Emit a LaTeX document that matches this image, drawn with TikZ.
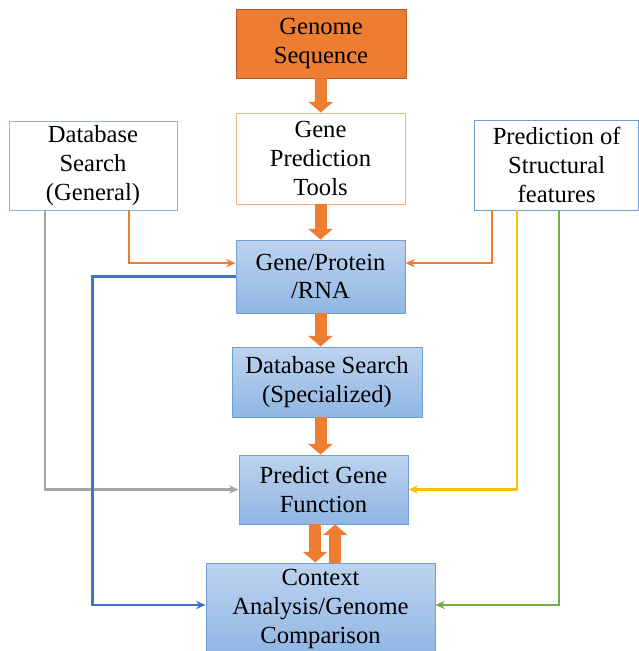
\documentclass[tikz,border=0pt]{standalone}
\usepackage{fontspec}
\setmainfont{Liberation Serif}
\usepackage{tikz}
\usetikzlibrary{arrows.meta,positioning,calc}
\usepackage{xcolor}
\definecolor{genorange}{HTML}{ED7D31}
\definecolor{darkorange}{HTML}{B65A1E}
\definecolor{paleorange}{HTML}{F4B183}
\definecolor{boxblue}{HTML}{6F9ED8}
\definecolor{paleblue}{HTML}{8EB4E3}
\definecolor{topblue}{HTML}{BDD3EE}
\definecolor{botblue}{HTML}{90B6E4}
\definecolor{lineblue}{HTML}{4472C4}
\definecolor{linegray}{HTML}{A5A5A5}
\definecolor{lineyellow}{HTML}{FFC000}
\definecolor{linegreen}{HTML}{70AD47}

\begin{document}
\begin{tikzpicture}[
  >={Stealth[length=8pt,width=7pt]},
  box/.style={rectangle, align=center, inner sep=2pt, font=\fontsize{21}{24.5}\selectfont},
  bluebox/.style={box, draw=boxblue, line width=0.8pt, top color=topblue, bottom color=botblue},
  fatarrow/.style={genorange, line width=0.36cm, -{Triangle[width=0.72cm,length=0.32cm]}},
  link/.style={->, line width=1.8pt}
]
  \useasboundingbox (0,0) rectangle (19.17,-19.53);

  % Top row
  \node[box, fill=genorange, draw=darkorange, line width=0.8pt, minimum width=5.1cm, minimum height=2.07cm] (genome) at (9.63,-1.305) {Genome\\Sequence};
  \node[box, draw=paleorange, line width=0.8pt, minimum width=5.07cm, minimum height=2.73cm] (genepred) at (9.615,-4.755) {Gene\\Prediction\\Tools};
  \node[box, draw=paleblue, line width=0.8pt, minimum width=5.04cm, minimum height=2.67cm] (dbgen) at (2.79,-4.965) {Database\\Search\\(General)};
  \node[box, draw=boxblue, line width=0.8pt, minimum width=4.92cm, minimum height=2.7cm] (structural) at (16.7,-4.95) {Prediction of\\Structural\\features};

  % Main column
  \node[bluebox, minimum width=5.07cm, minimum height=2.19cm] (geneprot) at (9.615,-8.295) {Gene/Protein\\/RNA};
  \node[bluebox, minimum width=5.7cm, minimum height=2.1cm] (dbspec) at (9.81,-11.46) {Database Search\\(Specialized)};
  \node[bluebox, minimum width=5.07cm, minimum height=2.07cm] (predict) at (9.705,-14.685) {Predict Gene\\Function};
  \node[bluebox, minimum width=6.87cm, minimum height=2.76cm] (context) at (9.615,-18.27) {Context\\Analysis/Genome\\Comparison};

  % Fat arrows
  \draw[fatarrow] (genome) -- (genepred);
  \draw[fatarrow] (genepred) -- (geneprot);
  \draw[fatarrow] (geneprot.south -| genepred) -- (dbspec.north -| genepred);
  \draw[fatarrow] (dbspec.south -| genepred) -- (predict.north -| genepred);
  \draw[fatarrow] ([xshift=-0.25cm]predict.south) -- ([xshift=-0.25cm]predict.south |- context.north);
  \draw[fatarrow] ([xshift=0.35cm]predict.south |- context.north) -- ([xshift=0.35cm]predict.south);

  % Side links
  \draw[link, genorange] ([xshift=1.08cm]dbgen.south) |- ([yshift=0.4cm]geneprot.west);
  \draw[link, genorange] ([xshift=-1.95cm]structural.south) |- ([yshift=0.4cm]geneprot.east);
  \draw[link, linegray] ([xshift=-1.44cm]dbgen.south) |- (predict.west);
  \draw[link, lineyellow] ([xshift=-1.2cm]structural.south) |- (predict.east);
  \draw[link, linegreen] ([xshift=0.06cm]structural.south) |- ([yshift=0.12cm]context.east);
  \draw[link, lineblue] (geneprot.west) -- ++(-4.29,0) |- ([yshift=0.12cm]context.west);
\end{tikzpicture}
\end{document}
